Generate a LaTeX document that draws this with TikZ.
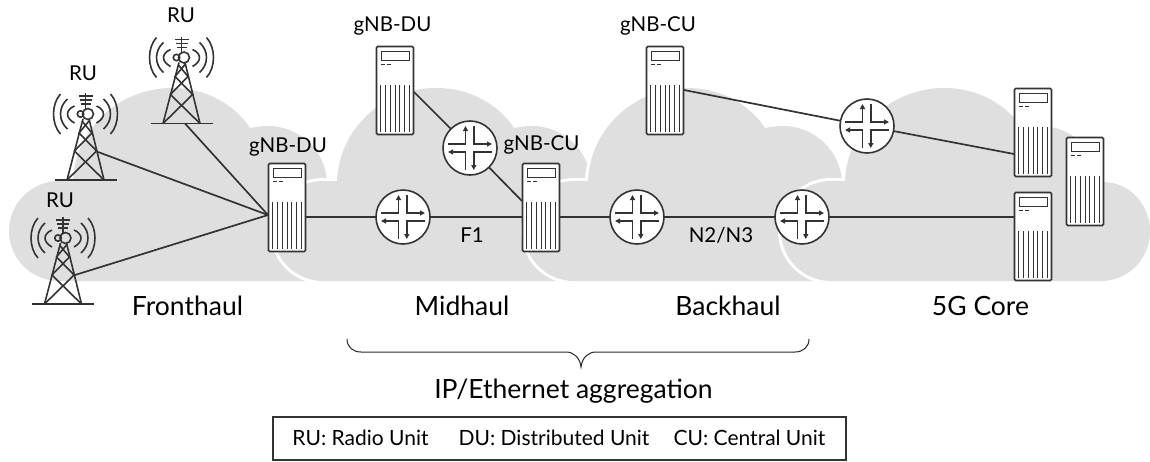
\documentclass[tikz,border=0pt]{standalone}
\usepackage{fontspec}
\setmainfont{Lato}
\usetikzlibrary{arrows.meta}
\definecolor{ink}{HTML}{333333}
\definecolor{cloudgray}{HTML}{DFDFDF}
\tikzset{
  cloudshape/.style={fill=cloudgray,preaction={draw=white,line width=6pt}},
  serverbox/.style={draw=ink,fill=white,line width=1.6pt,rounded corners=1.2pt,minimum width=37pt,minimum height=88pt,inner sep=0pt,outer sep=0pt},
  routerdisc/.style={circle,draw=ink,fill=white,line width=1.6pt,minimum size=54pt,inner sep=0pt,outer sep=0pt},
  conn/.style={draw=ink,line width=1.7pt},
  thin1/.style={draw=ink,line width=0.9pt},
  arm/.style={draw=ink,line width=1.4pt,-{Triangle[length=5pt,width=5pt]}},
  towerline/.style={draw=ink,line width=1.6pt},
  lab/.style={text=black,font=\fontsize{20.5}{24}\selectfont,inner sep=0pt},
  biglab/.style={text=black,font=\fontsize{26.5}{30}\selectfont,inner sep=0pt},
  keytext/.style={text=black,font=\fontsize{21}{24}\selectfont,inner sep=0pt}
}
\newcommand{\cloudat}[1]{%
  \path[cloudshape,shift={(#1,0)}] (0,231) .. controls (0,203.4) and (22.4,181) .. (50,181) -- (64,181)
    .. controls (66,129) and (110,88) .. (163,88)
    .. controls (197,88) and (225,104) .. (241,128)
    .. controls (247,127) and (253,126) .. (259,126)
    .. controls (290,126) and (316,150) .. (318,181)
    -- (322,182) .. controls (348,182) and (369,204) .. (369,231)
    .. controls (369,259) and (347,281) .. (320,281)
    -- (50,281) .. controls (22.4,281) and (0,258.6) .. (0,231) -- cycle;}
\newcommand{\serverat}[3]{% name, left, top
  \node[serverbox] (#1) at (#2+19,#3+44.5) {};
  \begin{scope}[shift={(#2,#3)}]
    \draw[thin1] (5,5.5) rectangle (33.5,14);
    \draw[thin1] (5,18.5) -- (9,18.5) (11,18.5) -- (15,18.5);
    \foreach \q in {0,...,6} {\draw[thin1] (4.8+4.75*\q,39) -- (4.8+4.75*\q,86);}
  \end{scope}}
\newcommand{\routerat}[3]{% name, x, y
  \node[routerdisc] (#1) at (#2,#3) {};
  \begin{scope}[shift={(#2,#3)}]
    \draw[arm] (-22,-4) -- (-4.5,-4) -- (-4.5,-22);
    \draw[arm] (3.8,-22) -- (3.8,-4) -- (22,-4);
    \draw[arm] (22,4) -- (3.8,4) -- (3.8,22);
    \draw[arm] (-4.5,22) -- (-4.5,4) -- (-22,4);
  \end{scope}}
\newcommand{\towerat}[3]{% name, base centre x, base y
  \coordinate (#1) at (#2,#3);
  \begin{scope}[shift={(#2,#3)}]
    \draw[towerline] (-31,0) -- (31,0);
    \draw[towerline] (-18.5,0) -- (-2.5,-61) (18.5,0) -- (3.5,-61);
    \draw[towerline] (-18.5,0) -- (11.1,-29) -- (-6.5,-47) -- (3.5,-59);
    \draw[towerline] (18.5,0) -- (-11.1,-29) -- (6.5,-47) -- (-3.5,-59);
    \draw[towerline] (2.5,-66) circle (5.5);
    \draw[towerline] (-5,-66) circle (3.2);
    \draw[towerline] (0,-87) -- (0,-71);
    \draw[towerline] (-7,-84) -- (7,-84) (-6,-80) -- (6,-80) (-5,-76) -- (5,-76);
    \foreach \s in {-1,1} {
      \draw[towerline] (\s*11,-74) .. controls (\s*20.3,-70) and (\s*20.3,-62) .. (\s*11,-57);
      \draw[towerline] (\s*18,-81) .. controls (\s*27.3,-73) and (\s*27.3,-59) .. (\s*18,-51);
      \draw[towerline] (\s*25,-86) .. controls (\s*34.3,-76) and (\s*34.3,-56) .. (\s*25,-46);
    }
  \end{scope}}
\begin{document}
\begin{tikzpicture}[x=1pt,y=-1pt]
  \useasboundingbox (0,0) rectangle (1150,461);
  \cloudat{9}
  \cloudat{273}
  \cloudat{524}
  \cloudat{781}
  % anchors for connectors
  \coordinate (duport) at (268,215);
  \coordinate (t0port) at (185,123.5);
  \coordinate (t1port) at (98,152);
  \coordinate (t2port) at (75,275);
  % connectors
  \draw[conn] (t0port) -- (duport);
  \draw[conn] (t1port) -- (duport);
  \draw[conn] (t2port) -- (duport);
  \serverat{fdu}{268}{163}
  \serverat{mdu}{376}{46}
  \serverat{mcu}{522}{163}
  \serverat{bcu}{646}{46}
  \serverat{coreA}{1014}{88}
  \serverat{coreB}{1014}{192}
  \serverat{coreC}{1066}{137}
  \routerat{ra}{403}{217}
  \routerat{rb}{470}{148}
  \routerat{rc}{637}{217}
  \routerat{rd}{802}{217}
  \routerat{re}{867}{126}
  \towerat{tzero}{181.5}{123.5}
  \towerat{tone}{85.5}{180}
  \towerat{ttwo}{63}{304}
  \coordinate (mduport) at (414,92);
  \coordinate (mcuport) at (522,201);
  \coordinate (mculeft) at (522,217);
  \coordinate (bcuport) at (684,90);
  \coordinate (coreAport) at (1014,154);
  \coordinate (coreBport) at (1014,217);
  \coordinate (fduright) at (306,217);
  \coordinate (mcuright) at (560,217);
  \draw[conn] (fduright) -- (ra);
  \draw[conn] (ra) -- (mculeft);
  \draw[conn] (mcuright) -- (rc);
  \draw[conn] (rc) -- (rd);
  \draw[conn] (rd) -- (coreBport);
  \draw[conn] (mduport) -- (rb);
  \draw[conn] (rb) -- (mcuport);
  \draw[conn] (bcuport) -- (re);
  \draw[conn] (re) -- (coreAport);
  % labels
  \node[lab] (l1) at (181,15) {RU};
  \node[lab] (l2) at (83,73) {RU};
  \node[lab] (l3) at (60,200) {RU};
  \node[lab] (l4) at (288,147) {gNB-DU};
  \node[lab] (l5) at (392.5,26) {gNB-DU};
  \node[lab] (l6) at (541.5,145) {gNB-CU};
  \node[lab] (l7) at (658,26) {gNB-CU};
  \node[lab] (l8) at (472,235) {F1};
  \node[lab] (l9) at (721,235) {N2/N3};
  \node[biglab] (b1) at (187.5,306) {Fronthaul};
  \node[biglab] (b2) at (462,306) {Midhaul};
  \node[biglab] (b3) at (728,306) {Backhaul};
  \node[biglab] (b4) at (980.5,306) {5G Core};
  \draw[draw=black!85,line width=1pt] (347,339) .. controls (347,347) and (353,352) .. (361,352) -- (566,352)
     .. controls (574,352) and (580,358) .. (581,367) .. controls (582,358) and (588,352) .. (596,352)
     -- (795,352) .. controls (803,352) and (809,347) .. (809,339);
  \node[biglab] (b5) at (573.5,391) {IP/Ethernet aggregation};
  \node[draw=ink,line width=1.1pt,minimum width=573pt,minimum height=43pt,inner sep=0pt] (key) at (559.5,438.5) {};
  \node[keytext] (k1) at (360.5,438) {RU: Radio Unit};
  \node[keytext] (k2) at (554,438) {DU: Distributed Unit};
  \node[keytext] (k3) at (749.5,438) {CU: Central Unit};
\end{tikzpicture}
\end{document}
